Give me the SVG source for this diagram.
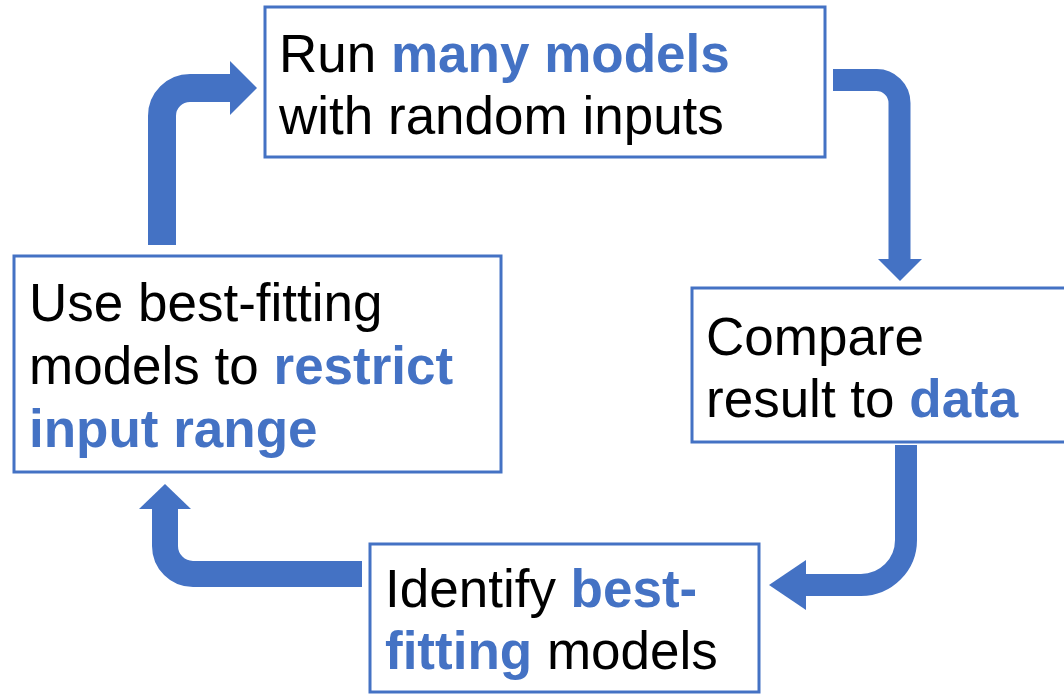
<svg xmlns="http://www.w3.org/2000/svg" width="1064" height="694" viewBox="0 0 1064 694">
<style>
.box{fill:#fff;stroke:#4472C4;stroke-width:3}
.t{font-family:"Liberation Sans",Arial,Helvetica,sans-serif;font-size:53px;fill:#000}
.b{font-weight:bold;fill:#4472C4}
.shaft{fill:none;stroke:#4472C4;stroke-linecap:butt}
.head{fill:#4472C4}
</style>
<rect width="1064" height="694" fill="#fff"/>
<g id="connectors">
<path class="shaft" stroke-width="28" d="M162,245 V116 A28,28 0 0 1 190,88 H231"/>
<polygon class="head" points="230,61 257,88 230,115"/>
<path class="shaft" stroke-width="22" d="M833,80 H876 A23,23 0 0 1 899.5,103 V260"/>
<polygon class="head" points="878,259 922,259 900,281"/>
<path class="shaft" stroke-width="22" d="M906,445 V540 A45,45 0 0 1 861,585 H806"/>
<polygon class="head" points="806,560 769,585 806,610"/>
<path class="shaft" stroke-width="26" d="M362,574 H193 A28,28 0 0 1 165,546 V508"/>
<polygon class="head" points="139,509 165,484 191,509"/>
</g>
<g id="node-run">
<rect class="box" x="265" y="7" width="560" height="150"/>
<text class="t" x="279" y="72">Run <tspan class="b">many models</tspan></text>
<text class="t" x="279" y="134">with random inputs</text>
</g>
<g id="node-compare">
<rect class="box" x="692" y="288" width="380" height="154"/>
<text class="t" x="706" y="355">Compare</text>
<text class="t" x="706" y="417">result to <tspan class="b">data</tspan></text>
</g>
<g id="node-identify">
<rect class="box" x="370" y="544" width="389" height="148"/>
<text class="t" x="385" y="607">Identify <tspan class="b">best-</tspan></text>
<text class="t" x="385" y="669"><tspan class="b">fitting</tspan> models</text>
</g>
<g id="node-use">
<rect class="box" x="14" y="256" width="487" height="216"/>
<text class="t" x="29" y="321">Use best-fitting</text>
<text class="t" x="29" y="384">models to <tspan class="b">restrict</tspan></text>
<text class="t" x="29" y="447"><tspan class="b">input range</tspan></text>
</g>
</svg>
